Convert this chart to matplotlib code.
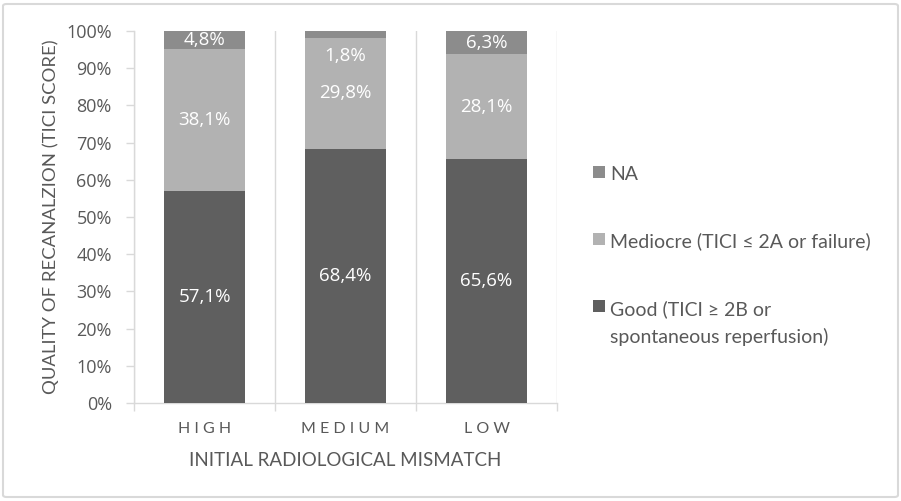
import matplotlib
matplotlib.use("Agg")
import matplotlib.pyplot as plt
from matplotlib.patches import FancyBboxPatch
import numpy as np

plt.rcParams['font.family'] = ['Lato', 'DejaVu Sans']
NUMFONT = ['Open Sans', 'DejaVu Sans']

categories = ["HIGH", "MEDIUM", "LOW"]
good = [57.1, 68.4, 65.6]
mediocre = [38.1, 29.8, 28.1]
na = [4.8, 1.8, 6.3]
series_names = ["Good (TICI \u2265 2B or\nspontaneous reperfusion)",
                "Mediocre (TICI \u2264 2A or failure)",
                "NA"]
yticks = [0, 10, 20, 30, 40, 50, 60, 70, 80, 90, 100]

c_good = "#5f5f5f"
c_med = "#b2b2b2"
c_na = "#8c8c8c"
txt = "#595959"

fig = plt.figure(figsize=(9.01, 5.01), dpi=100)
fig.patches.append(FancyBboxPatch((3/901, 4/501), 895/901, 493/501,
                                  boxstyle="round,pad=0,rounding_size=0.004",
                                  transform=fig.transFigure, facecolor="none",
                                  edgecolor="#d9d9d9", linewidth=1.5, zorder=-1))
ax = fig.add_axes([134/901, 1 - 403/501, (557 - 134)/901, (403 - 31)/501])
ax.set_facecolor("none")

x = np.arange(len(categories))
w = 0.57
b1 = ax.bar(x, good, w, color=c_good, label=series_names[0], zorder=3)
bottom2 = np.array(good)
b2 = ax.bar(x, mediocre, w, bottom=bottom2, color=c_med, label=series_names[1], zorder=3)
bottom3 = bottom2 + np.array(mediocre)
b3 = ax.bar(x, na, w, bottom=bottom3, color=c_na, label=series_names[2], zorder=3)

def fmt(v):
    return f"{v:.1f}%".replace(".", ",")

for vals, bots in [(good, np.zeros(3)), (mediocre, bottom2), (na, bottom3)]:
    for xi, v, b in zip(x, vals, bots):
        yc = b + v / 2
        if v < 3:
            ax.annotate(fmt(v), (xi, b + v), xytext=(0, -18), textcoords="offset points",
                        ha="center", va="center", color="white", fontsize=13.5,
                        family=NUMFONT, zorder=4)
        else:
            ax.text(xi, yc, fmt(v), ha="center", va="center", color="white",
                    fontsize=13.5, family=NUMFONT, zorder=4)

ax.set_xlim(-0.5, 2.5)
ax.set_ylim(0, 100)
ax.set_yticks(yticks)
ax.set_yticklabels([f"{t}%" for t in yticks], color=txt, fontsize=13, family=NUMFONT)
ax.set_xticks(x)
ax.set_xticklabels([" ".join(c) for c in categories], color=txt, fontsize=11.5)
ax.tick_params(axis='x', which='major', length=0, pad=14)
ax.set_xticks([-0.5, 0.5, 1.5, 2.5], minor=True)
ax.tick_params(axis='x', which='minor', length=6, color="#d9d9d9", width=1)
ax.tick_params(axis='y', length=6, color="#d9d9d9", width=1, pad=10)
ax.grid(axis='x', which='minor', color="#d9d9d9", linewidth=1, zorder=0)
ax.grid(axis='x', which='major', visible=False)
for s in ["top", "right"]:
    ax.spines[s].set_visible(False)
for s in ["left", "bottom"]:
    ax.spines[s].set_color("#d9d9d9")
    ax.spines[s].set_linewidth(1)

ax.set_xlabel("INITIAL RADIOLOGICAL MISMATCH", color=txt, fontsize=13.5, labelpad=11)
ax.set_ylabel("QUALITY OF RECANALZION (TICI SCORE)", color=txt, fontsize=13.3, labelpad=5)

handles = [b3, b2, b1]
labels = [series_names[2], series_names[1], series_names[0]]
leg = fig.legend(handles, labels, loc="upper left", bbox_to_anchor=(593/901, 1 - 166/501),
                 frameon=False, fontsize=14, labelspacing=2.55, handlelength=0.6,
                 handleheight=0.6, handletextpad=0.3, borderpad=0, borderaxespad=0)
for t in leg.get_texts():
    t.set_color(txt)
    t.set_linespacing(1.65)
for col in leg._legend_handle_box.get_children():
    for row in col.get_children():
        row.align = "top"

fig.savefig("out.png", dpi=100)
